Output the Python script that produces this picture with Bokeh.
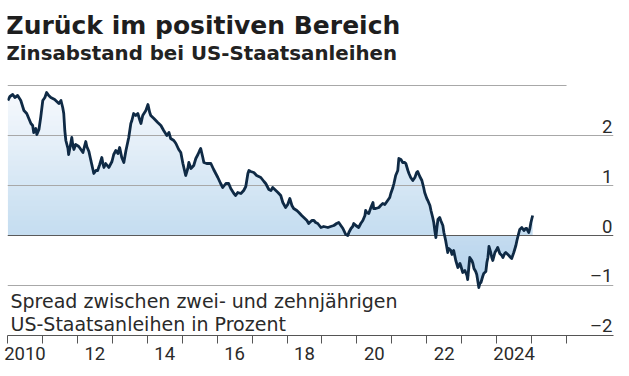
import numpy as np
from bokeh.plotting import figure
from bokeh.models import Range1d, FixedTicker, Label
from bokeh.core.properties import value
from bokeh.embed import file_html
from bokeh.resources import INLINE

# ---- data ----
years = [
    2010.01, 2010.07, 2010.15, 2010.21, 2010.29, 2010.38, 2010.47, 2010.55, 2010.67, 2010.72,
    2010.75, 2010.81, 2010.84, 2010.90, 2010.95, 2011.01, 2011.07, 2011.12, 2011.18, 2011.24,
    2011.35, 2011.47, 2011.53, 2011.58, 2011.61, 2011.64, 2011.67, 2011.73, 2011.75, 2011.81,
    2011.84, 2011.87, 2011.90, 2011.95, 2012.04, 2012.10, 2012.16, 2012.21, 2012.24, 2012.27,
    2012.33, 2012.38, 2012.47, 2012.53, 2012.58, 2012.64, 2012.70, 2012.73, 2012.76, 2012.81,
    2012.90, 2012.99, 2013.04, 2013.10, 2013.16, 2013.21, 2013.27, 2013.33, 2013.39, 2013.47,
    2013.53, 2013.56, 2013.61, 2013.67, 2013.73, 2013.79, 2013.82, 2013.87, 2013.96, 2014.02,
    2014.07, 2014.10, 2014.19, 2014.30, 2014.39, 2014.47, 2014.56, 2014.62, 2014.67, 2014.76,
    2014.82, 2014.90, 2014.96, 2015.02, 2015.10, 2015.16, 2015.19, 2015.25, 2015.33, 2015.39,
    2015.45, 2015.50, 2015.53, 2015.59, 2015.62, 2015.70, 2015.82, 2015.90, 2016.02, 2016.10,
    2016.16, 2016.25, 2016.33, 2016.39, 2016.48, 2016.53, 2016.59, 2016.68, 2016.76, 2016.82,
    2016.88, 2016.91, 2016.96, 2017.05, 2017.13, 2017.25, 2017.34, 2017.39, 2017.48, 2017.54,
    2017.59, 2017.68, 2017.74, 2017.82, 2017.88, 2017.96, 2018.02, 2018.08, 2018.14, 2018.19,
    2018.28, 2018.34, 2018.42, 2018.48, 2018.57, 2018.62, 2018.71, 2018.77, 2018.82, 2018.88,
    2018.97, 2019.05, 2019.17, 2019.25, 2019.34, 2019.42, 2019.48, 2019.54, 2019.60, 2019.68,
    2019.74, 2019.77, 2019.83, 2019.88, 2019.91, 2019.97, 2020.05, 2020.11, 2020.17, 2020.23,
    2020.25, 2020.28, 2020.34, 2020.40, 2020.46, 2020.48, 2020.54, 2020.63, 2020.68, 2020.74,
    2020.80, 2020.88, 2020.94, 2020.97, 2021.03, 2021.06, 2021.11, 2021.17, 2021.20, 2021.26,
    2021.31, 2021.37, 2021.40, 2021.46, 2021.49, 2021.54, 2021.60, 2021.66, 2021.71, 2021.74,
    2021.80, 2021.86, 2021.91, 2021.94, 2022.00, 2022.03, 2022.09, 2022.12, 2022.17, 2022.20,
    2022.23, 2022.26, 2022.29, 2022.32, 2022.37, 2022.40, 2022.46, 2022.49, 2022.54, 2022.60,
    2022.63, 2022.69, 2022.72, 2022.77, 2022.83, 2022.89, 2022.95, 2022.97, 2023.03, 2023.09,
    2023.15, 2023.17, 2023.23, 2023.29, 2023.32, 2023.35, 2023.40, 2023.43, 2023.49, 2023.52,
    2023.55, 2023.60, 2023.63, 2023.69, 2023.72, 2023.75, 2023.78, 2023.83, 2023.86, 2023.89,
    2023.95, 2024.00, 2024.03, 2024.09, 2024.15, 2024.18, 2024.23, 2024.26, 2024.32, 2024.35,
    2024.40, 2024.43, 2024.49, 2024.55, 2024.58, 2024.63, 2024.66, 2024.72, 2024.78, 2024.83,
    2024.86, 2024.92, 2024.95, 2024.98, 2025.03,
]
spread = [
    2.70, 2.78, 2.82, 2.76, 2.80, 2.70, 2.50, 2.44, 2.24, 2.20,
    2.06, 2.14, 2.02, 2.12, 2.36, 2.70, 2.76, 2.86, 2.80, 2.76,
    2.72, 2.64, 2.70, 2.56, 2.44, 2.10, 1.90, 1.74, 1.62, 1.84,
    1.96, 1.80, 1.72, 1.82, 1.78, 1.72, 1.66, 1.80, 1.88, 1.78,
    1.68, 1.52, 1.24, 1.30, 1.30, 1.42, 1.56, 1.44, 1.36, 1.44,
    1.36, 1.48, 1.62, 1.70, 1.64, 1.76, 1.56, 1.46, 1.70, 1.96,
    2.24, 2.30, 2.44, 2.40, 2.44, 2.30, 2.24, 2.40, 2.50, 2.62,
    2.46, 2.40, 2.34, 2.26, 2.20, 2.10, 2.00, 2.06, 1.94, 1.90,
    1.84, 1.72, 1.66, 1.44, 1.20, 1.34, 1.46, 1.34, 1.40, 1.54,
    1.62, 1.70, 1.74, 1.56, 1.46, 1.44, 1.44, 1.32, 1.16, 1.04,
    0.96, 1.04, 1.04, 0.94, 0.84, 0.80, 0.86, 0.84, 0.90, 0.98,
    1.24, 1.30, 1.28, 1.26, 1.20, 1.16, 1.08, 1.04, 0.92, 0.90,
    0.96, 0.90, 0.86, 0.80, 0.66, 0.56, 0.62, 0.74, 0.60, 0.54,
    0.50, 0.46, 0.40, 0.36, 0.30, 0.24, 0.30, 0.30, 0.26, 0.24,
    0.16, 0.18, 0.16, 0.18, 0.20, 0.24, 0.26, 0.20, 0.14, 0.02,
    0.00, 0.06, 0.14, 0.18, 0.24, 0.20, 0.16, 0.24, 0.30, 0.40,
    0.50, 0.46, 0.44, 0.56, 0.66, 0.54, 0.54, 0.56, 0.60, 0.64,
    0.62, 0.70, 0.76, 0.84, 0.96, 1.04, 1.20, 1.30, 1.54, 1.52,
    1.46, 1.46, 1.44, 1.30, 1.24, 1.16, 1.10, 1.16, 1.26, 1.28,
    1.18, 1.10, 0.96, 0.86, 0.74, 0.70, 0.60, 0.50, 0.36, 0.26,
    0.10, -0.04, 0.16, 0.32, 0.36, 0.30, 0.20, 0.06, -0.10, -0.34,
    -0.26, -0.30, -0.38, -0.30, -0.50, -0.64, -0.56, -0.60, -0.74, -0.70,
    -0.80, -0.88, -0.44, -0.50, -0.56, -0.66, -0.72, -0.78, -1.04, -0.96,
    -0.94, -0.82, -0.76, -0.72, -0.54, -0.44, -0.22, -0.34, -0.44, -0.50,
    -0.34, -0.28, -0.24, -0.36, -0.40, -0.44, -0.36, -0.34, -0.38, -0.40,
    -0.44, -0.46, -0.34, -0.20, -0.10, 0.04, 0.12, 0.16, 0.10, 0.14,
    0.14, 0.06, 0.14, 0.26, 0.40,
]
tick_years = list(range(2010, 2027))
label_years = [2010, 2012, 2014, 2016, 2018, 2020, 2022, 2024]
label_texts = ["2010", "12", "14", "16", "18", "20", "22", "2024"]
grid_values = [2, 1, 0, -1, -2]
grid_texts = ["2", "1", "0", "\u20131", "\u20132"]

title_text = "Zur\u00fcck im positiven Bereich"
subtitle_text = "Zinsabstand bei US-Staatsanleihen"
note_lines = ["Spread zwischen zwei- und zehnj\u00e4hrigen", "US-Staatsanleihen in Prozent"]

# ---- figure ----
X0, X1 = 2010.0, 2027.344
Y0, Y1 = -2.0, 4.7   # upper part of the frame holds the headline texts
p = figure(width=629, height=376, x_range=Range1d(X0, X1), y_range=Range1d(Y0, Y1),
           output_backend="svg", toolbar_location=None, y_axis_location=None,
           title_location=None,
           min_border_left=7, min_border_right=16, min_border_top=0, min_border_bottom=41)
p.outline_line_color = None
p.grid.visible = False
p.background_fill_color = "white"
p.border_fill_color = "white"

x = np.array(years)
v = np.array(spread)
lo_v = np.minimum(v, 0.0)
hi_v = np.maximum(v, 0.0)

# gradient-like fill between the curve and zero, drawn as horizontal bands
top_c = np.array([247, 250, 253])
zero_c = np.array([196, 220, 240])
bot_c = np.array([178, 208, 235])
edges = np.round(np.arange(-1.2, 3.01, 0.1), 3)
for a, b in zip(edges[:-1], edges[1:]):
    m = 0.5 * (a + b)
    if m >= 0:
        f = min(m / 2.9, 1.0)
        c = zero_c + (top_c - zero_c) * f
    else:
        f = min(-m / 1.1, 1.0)
        c = zero_c + (bot_c - zero_c) * f
    col = "#%02x%02x%02x" % tuple(int(round(t)) for t in c)
    y1 = np.clip(lo_v, a, b + 0.012)
    y2 = np.clip(hi_v, a, b + 0.012)
    p.varea(x=x, y1=y1, y2=y2, fill_color=col, fill_alpha=1.0)

# grid lines
light = [g for g in grid_values if g not in (0, -2)]
p.hspan(y=light, line_color="#a8a8a8", line_width=1)
p.hspan(y=[0], line_color="#5a5a5a", line_width=1.2)
p.segment(x0=[X0], x1=[float(tick_years[-1])], y0=[3.0], y1=[3.0], line_color="#a8a8a8", line_width=1)

# data line
p.line(x=x, y=v, line_color="#0f2a45", line_width=2.8, line_join="round")

# right-hand value labels above grid lines
axis_font = "Roboto"
p.text(x=[X1] * len(grid_values), y=[g + 0.19 for g in grid_values], text=grid_texts,
       text_align="right", text_baseline="alphabetic", x_offset=-1,
       text_font=value(axis_font), text_font_size="18.5px", text_color="#2a2a2a")

# x axis
xa = p.xaxis[0]
label_pos = [yy + 0.5 for yy in label_years]
xa.ticker = FixedTicker(ticks=label_pos, minor_ticks=[float(t) for t in tick_years])
xa.major_label_overrides = {pos: txt for pos, txt in zip(label_pos, label_texts)}
xa.major_tick_line_color = None
xa.major_tick_out = 0
xa.major_tick_in = 0
xa.minor_tick_line_color = "#555555"
xa.minor_tick_out = 8
xa.minor_tick_in = 0
xa.axis_line_color = "#555555"
xa.axis_line_width = 1.2
xa.major_label_text_font = axis_font
xa.major_label_text_font_size = "18.5px"
xa.major_label_text_color = "#2a2a2a"
xa.major_label_standoff = 3

# titles and note
p.add_layout(Label(x=X0, y=4.2, x_offset=-2, text=title_text, text_font="DejaVu Sans",
                   text_font_style="bold", text_font_size="25px", text_color="#1e1e1e",
                   text_baseline="alphabetic"))
p.add_layout(Label(x=X0, y=3.64, x_offset=-2, text=subtitle_text, text_font="DejaVu Sans",
                   text_font_style="bold", text_font_size="19.8px", text_color="#222222",
                   text_baseline="alphabetic"))
p.add_layout(Label(x=X0, y=-1.30, x_offset=3, text=note_lines[0], text_font="DejaVu Sans",
                   text_font_size="19px", text_color="#2a2a2a", text_baseline="alphabetic"))
p.add_layout(Label(x=X0, y=-1.766, x_offset=3, text=note_lines[1], text_font="DejaVu Sans",
                   text_font_size="19px", text_color="#2a2a2a", text_baseline="alphabetic"))

open("out.html", "w").write(file_html(p, INLINE))
